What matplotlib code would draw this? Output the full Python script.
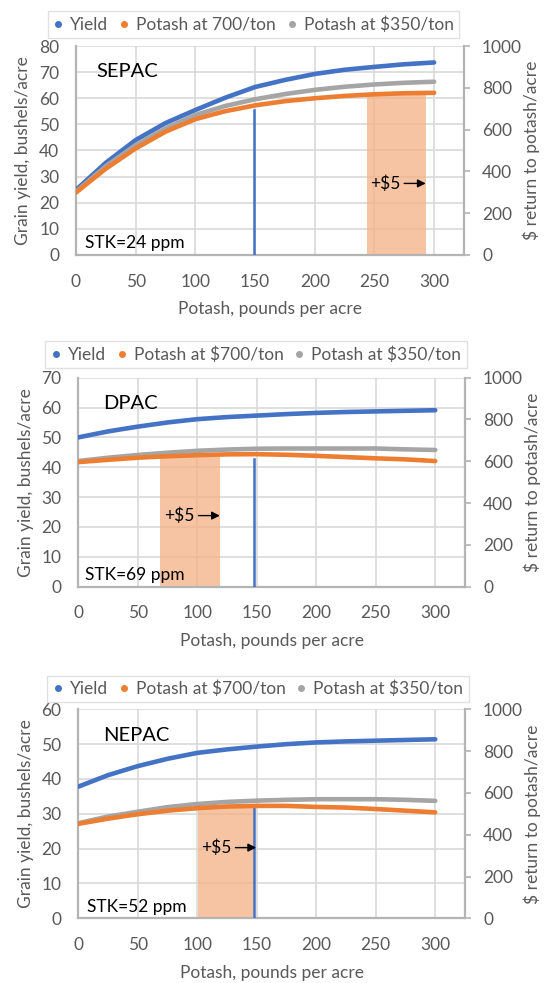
import numpy as np
import matplotlib.pyplot as plt
from matplotlib.lines import Line2D

plt.rcParams['font.family'] = ['Lato', 'DejaVu Sans']

# potash rate, lb/acre
rate = [0, 25, 50, 75, 100, 125, 150, 175, 200, 225, 250, 275, 300]

# ---- SEPAC ----
sepac_yield = [24.9, 35.3, 44.0, 50.5, 55.5, 60.2, 64.3, 67.0, 69.3, 70.9, 72.0, 73.0, 73.7]
sepac_700 = [299, 413, 510, 590, 650, 688, 716, 736, 750, 761, 769, 774, 776]
sepac_350 = [303, 425, 526, 606, 670, 713, 745, 770, 790, 805, 816, 824, 829]

# ---- DPAC ----
dpac_yield = [50.0, 52.0, 53.6, 55.0, 56.1, 56.8, 57.3, 57.8, 58.2, 58.5, 58.7, 58.9, 59.1]
dpac_700 = [596, 607, 617, 624, 629, 633, 634, 631, 626, 620, 614, 609, 601]
dpac_350 = [601, 617, 630, 641, 650, 656, 660, 661, 661, 661, 661, 657, 654]

# ---- NEPAC ----
nepac_yield = [37.8, 41.1, 43.7, 45.8, 47.5, 48.5, 49.3, 50.0, 50.5, 50.8, 51.0, 51.2, 51.4]
nepac_700 = [452, 477, 498, 515, 527, 535, 538, 538, 533, 530, 523, 515, 507]
nepac_350 = [455, 487, 510, 532, 547, 557, 563, 567, 570, 570, 570, 567, 562]

sites = ['SEPAC', 'DPAC', 'NEPAC']
stk = ['STK=24 ppm', 'STK=69 ppm', 'STK=52 ppm']
ymax = [80, 70, 60]
label_700 = ['Potash at 700/ton', 'Potash at $700/ton', 'Potash at $700/ton']
yields = [sepac_yield, dpac_yield, nepac_yield]
ret700 = [sepac_700, dpac_700, nepac_700]
ret350 = [sepac_350, dpac_350, nepac_350]
# economic optimum line (x, top in bu/acre) and +$5 band (from, to, top)
opt_x = [149, 148, 148]
opt_top = [55.5, 42.7, 32.0]
band = [(243.5, 293.5, 61.2), (68.5, 119, 43.8), (101, 148, 32.5)]
note_y = [27.4, 23.8, 20.3]
note_x = [246, 72, 103]
arrow_end = [293, 119, 149.5]
name_pos = [(17.4, 70.2), (21, 61.4), (21, 52.6)]
stk_pos = [(7.5, 4.7), (5.6, 3.9), (7, 3.3)]

BLUE = '#4472c4'
ORANGE = '#ed7d31'
GRAY = '#a5a5a5'
TXT = '#595959'

fig = plt.figure(figsize=(5.49, 9.83), dpi=100)
boxes = [[0.1384, 0.7406, 0.7067, 0.2126],
         [0.1426, 0.4032, 0.7044, 0.2126],
         [0.1426, 0.0658, 0.7044, 0.2126]]
leg_x = [0.457, 0.4595, 0.4648]
leg_y = [1.038, 1.046, 1.033]

for i in range(3):
    ax = fig.add_axes(boxes[i])
    ax2 = ax.twinx()

    ax.set_xlim(0, 325)
    ax.set_ylim(0, ymax[i])
    ax.set_xticks(range(0, 301, 50))
    ax.set_yticks(range(0, ymax[i] + 1, 10))
    ax.grid(True, color='#d9d9d9', lw=1.2)
    ax.set_axisbelow(True)

    ax.axvspan(band[i][0], band[i][1], ymax=band[i][2] / ymax[i],
               color='#f4b183', alpha=0.75, lw=0, zorder=1)
    ax.plot(rate, yields[i], color=BLUE, lw=3.3, solid_capstyle='round', zorder=3)
    ax.plot([opt_x[i], opt_x[i]], [0, opt_top[i]], color=BLUE, lw=1.8, zorder=4)

    ax.text(name_pos[i][0], name_pos[i][1], sites[i], fontsize=14.5, color='black',
            ha='left', va='center')
    ax.text(stk_pos[i][0], stk_pos[i][1], stk[i], fontsize=12.5, color='black',
            ha='left', va='center')
    ax.annotate('+$5', xy=(arrow_end[i], note_y[i]), xytext=(note_x[i], note_y[i]),
                fontsize=12.5, ha='left', va='center', color='black',
                arrowprops=dict(arrowstyle='-|>', color='black', lw=1,
                                shrinkA=1, shrinkB=0, mutation_scale=12),
                zorder=5)

    ax2.set_ylim(0, 1000)
    ax2.set_yticks(range(0, 1001, 200))
    ax2.plot(rate, ret350[i], color=GRAY, lw=3.3, solid_capstyle='round')
    ax2.plot(rate, ret700[i], color=ORANGE, lw=3.3, solid_capstyle='round')

    for a in (ax, ax2):
        for s in a.spines.values():
            s.set_visible(False)
    ax.spines['left'].set_visible(True)
    ax.spines['bottom'].set_visible(True)
    ax2.spines['right'].set_visible(True)
    for s in (ax.spines['left'], ax.spines['bottom'], ax2.spines['right']):
        s.set_color('#b4b4b4')
        s.set_linewidth(1.6)

    ax.tick_params(axis='both', length=0, labelsize=12.5, labelcolor=TXT)
    ax.tick_params(axis='y', pad=12)
    ax.tick_params(axis='x', pad=13.5)
    ax2.tick_params(axis='y', length=4, width=1.2, color='#b4b4b4', pad=9,
                    labelsize=12.5, labelcolor=TXT)

    ax.set_xlabel('Potash, pounds per acre', fontsize=12.5, color=TXT)
    ax.xaxis.set_label_coords(0.5, -0.222)
    ax.set_ylabel('Grain yield, bushels/acre', fontsize=12.5, color=TXT)
    ax.yaxis.set_label_coords(-0.115, 0.5)
    ax2.set_ylabel('$ return to potash/acre', fontsize=12.5, color=TXT)
    ax2.yaxis.set_label_coords(1.15, 0.5)

    handles = [Line2D([], [], ls='none', marker='o', ms=4, color=BLUE),
               Line2D([], [], ls='none', marker='o', ms=4, color=ORANGE),
               Line2D([], [], ls='none', marker='o', ms=4, color=GRAY)]
    names = ['Yield', label_700[i], 'Potash at $350/ton']
    leg = ax2.legend(handles, names, loc='lower center',
                     bbox_to_anchor=(leg_x[i], leg_y[i]), ncol=3, fontsize=12.5,
                     frameon=True, fancybox=False, handlelength=0.6,
                     handletextpad=0.4, columnspacing=0.6, borderpad=0.3,
                     borderaxespad=0)
    leg.get_frame().set_edgecolor('#d9d9d9')
    leg.get_frame().set_linewidth(1)
    for t in leg.get_texts():
        t.set_color(TXT)

fig.savefig('out.png', dpi=100)
